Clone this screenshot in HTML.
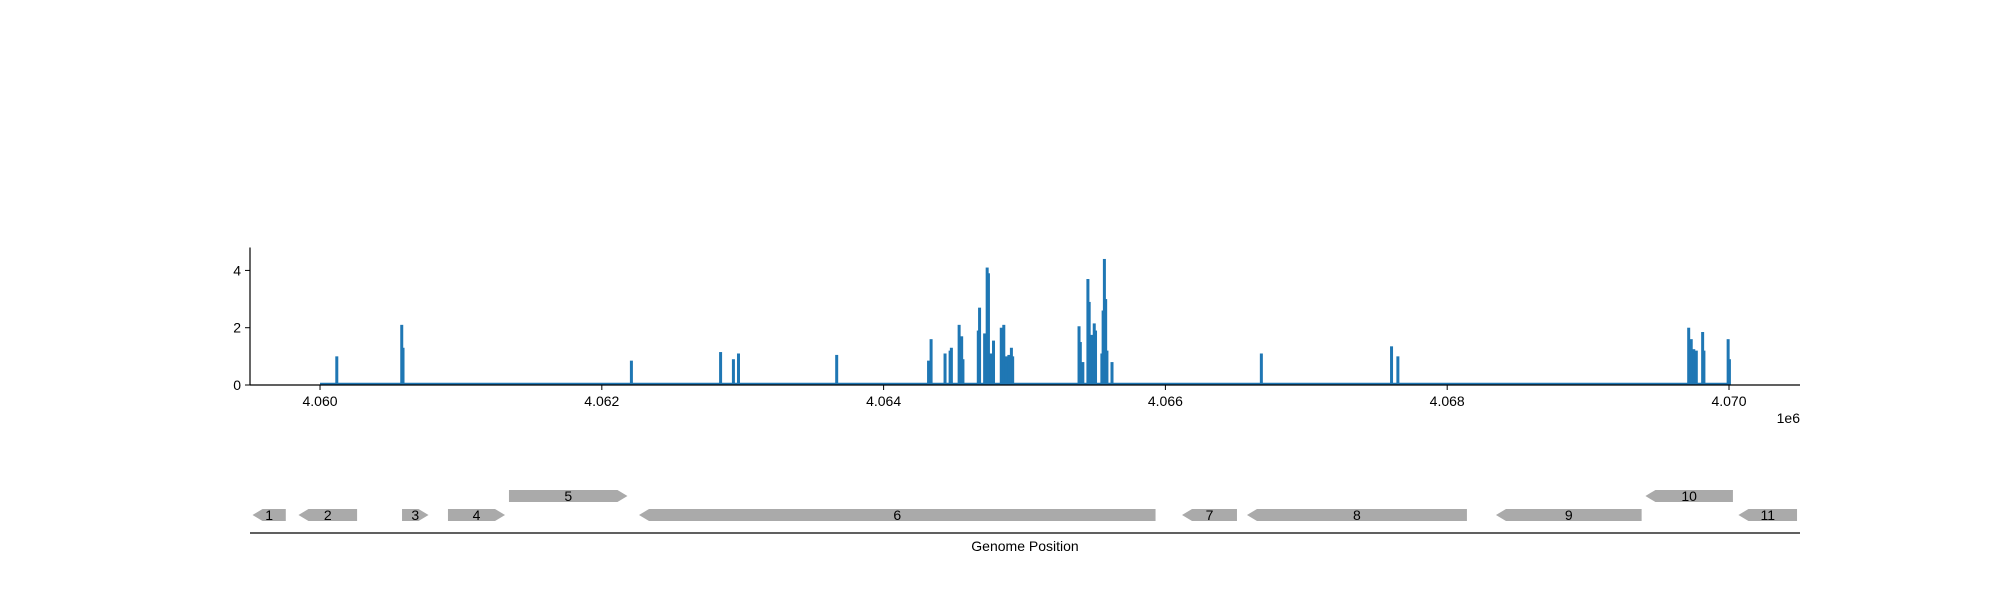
<!DOCTYPE html>
<html><head><meta charset="utf-8"><style>
body{margin:0;background:#fff;}
svg{display:block;font-family:"Liberation Sans","DejaVu Sans",sans-serif;}
</style></head><body>
<svg id="chart" width="2000" height="600" xmlns="http://www.w3.org/2000/svg">
<g id="cov"></g>
<g id="genes"></g>
</svg>
<script>
const xTicks=[4060000,4062000,4064000,4066000,4068000,4070000];
const xTickLabels=["4.060","4.062","4.064","4.066","4.068","4.070"];
const yTicks=[0,2,4];
const peakPos=[4060119,4060580,4060589,4062210,4062843,4062934,4062970,4063667,4064319,4064337,4064436,4064472,4064481,4064536,4064554,4064563,4064672,4064681,4064717,4064735,4064744,4064762,4064780,4064835,4064853,4064871,4064889,4064907,4064916,4065387,4065396,4065414,4065450,4065459,4065477,4065486,4065495,4065504,4065549,4065558,4065567,4065576,4065585,4065621,4066681,4067605,4067650,4069714,4069732,4069750,4069768,4069813,4069822,4069994,4070003];
const peakVal=[1.0,2.1,1.3,0.85,1.15,0.9,1.1,1.05,0.85,1.6,1.1,1.2,1.3,2.1,1.7,0.9,1.9,2.7,1.8,4.1,3.9,1.1,1.55,2.0,2.1,1.0,1.05,1.3,1.0,2.05,1.5,0.8,3.7,2.9,1.75,0.9,2.15,1.9,1.1,2.6,4.4,3.0,1.2,0.8,1.1,1.35,1.0,2.0,1.6,1.25,1.2,1.85,1.2,1.6,0.9];
const geneLabels=["1","2","3","4","5","6","7","8","9","10","11"];
const geneStart=[4059521,4059847,4060582,4060908,4061341,4062264,4066118,4066579,4068346,4069407,4070067];
const geneEnd=[4059757,4060263,4060770,4061313,4062182,4065930,4066508,4068140,4069380,4070028,4070483];
const geneStrand=[-1,-1,1,1,1,-1,-1,-1,-1,-1,-1];
const geneRow=[0,0,0,0,1,0,0,0,0,1,0];

const NS="http://www.w3.org/2000/svg";
const X0=250,X1=1800,XMIN=4059503,XMAX=4070504;
const xs=v=>X0+(v-XMIN)/(XMAX-XMIN)*(X1-X0);
const YB=385,YT=247.5,YMAX=4.8;
const ys=v=>YB-v/YMAX*(YB-YT);
function mk(parent,tag,attrs){const e=document.createElementNS(NS,tag);for(const k in attrs)e.setAttribute(k,attrs[k]);parent.appendChild(e);return e;}
const cov=document.getElementById('cov');
// baseline
let bl=mk(cov,'line',{x1:xs(4060000),x2:xs(4070000),y1:ys(0)-1,y2:ys(0)-1,stroke:'#1f77b4','stroke-width':2.5});


peakPos.forEach((p,i)=>{
  const r=mk(cov,'rect',{x:xs(p)-1.5,y:ys(peakVal[i]),width:3,height:ys(0)-ys(peakVal[i]),fill:'#1f77b4'});
  
  
});
// axes
let ax=mk(cov,'line',{x1:X0,x2:X0,y1:YT,y2:YB,stroke:'#000','stroke-width':1.2});


let axx=mk(cov,'line',{x1:X0,x2:X1,y1:YB,y2:YB,stroke:'#000','stroke-width':1.2});


yTicks.forEach(t=>{
  mk(cov,'line',{x1:X0-5,x2:X0,y1:ys(t),y2:ys(t),stroke:'#000','stroke-width':1});
  const tx=mk(cov,'text',{x:X0-9,y:ys(t)+5,'text-anchor':'end','font-size':14});
  tx.textContent=t;
  
  
});
xTicks.forEach((t,i)=>{
  mk(cov,'line',{x1:xs(t),x2:xs(t),y1:YB,y2:YB+5,stroke:'#000','stroke-width':1});
  const tx=mk(cov,'text',{x:xs(t),y:YB+21,'text-anchor':'middle','font-size':14});
  tx.textContent=xTickLabels[i];
  
  
});
let off=mk(cov,'text',{x:1800,y:423,'text-anchor':'end','font-size':14});
off.textContent='1e6';



const gt=document.getElementById('genes');
const rowY=[515,496],H=12,AH=10;
geneStart.forEach((s,i)=>{
  const a=xs(s),b=xs(geneEnd[i]),cy=rowY[geneRow[i]],t=cy-H/2,bt=cy+H/2;
  let pts;
  if(geneStrand[i]>0) pts=`${a},${t} ${b-AH},${t} ${b},${cy} ${b-AH},${bt} ${a},${bt}`;
  else pts=`${a+AH},${t} ${b},${t} ${b},${bt} ${a+AH},${bt} ${a},${cy}`;
  const g=mk(gt,'polygon',{points:pts,fill:'#aaaaaa'});
  
  
  const tx=mk(gt,'text',{x:(a+b)/2,y:cy+5,'text-anchor':'middle','font-size':14});
  tx.textContent=geneLabels[i];
  
  
});
let gl=mk(gt,'line',{x1:X0,x2:X1,y1:533,y2:533,stroke:'#000','stroke-width':1.2});


let xl=mk(gt,'text',{x:1025,y:551,'text-anchor':'middle','font-size':14});
xl.textContent='Genome Position';


</script>
</body></html>
